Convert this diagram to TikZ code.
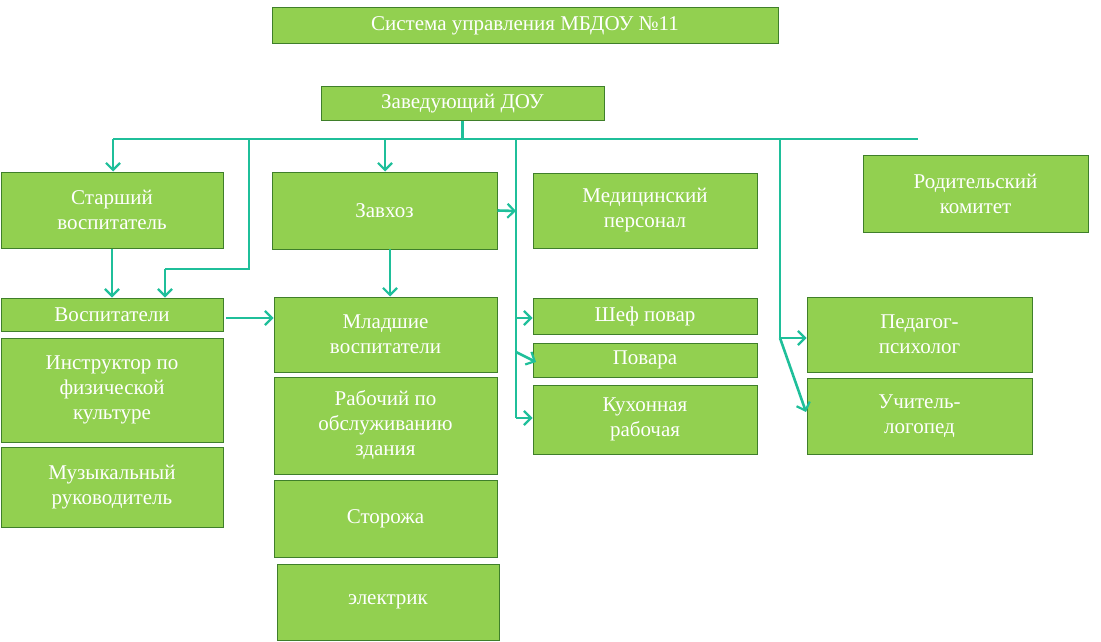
\documentclass[tikz,border=0pt]{standalone}
\usepackage{fontspec}
\setmainfont{Liberation Serif}
\usetikzlibrary{arrows.meta}
\definecolor{boxGreen}{HTML}{92D050}
\definecolor{boxEdge}{HTML}{3F7F2A}
\definecolor{linkTeal}{HTML}{1FBF9A}
\tikzset{
  unit/.style={draw=boxEdge, fill=boxGreen, text=white, line width=1pt, align=center,
    inner sep=0pt, font=\fontsize{21}{25}\selectfont},
  link/.style={draw=linkTeal, line width=2.6pt},
  arr/.style={link, -{Straight Barb[length=7pt,width=14pt,line width=2.2pt]}}
}
\newcommand{\unitbox}[6]{% name, x1, y1, x2, y2, text
  \node[unit, minimum width={#4-#2}, minimum height={#5-#3}] (#1) at ({(#2+#4)/2},{(#3+#5)/2}) {#6};}
\begin{document}
\begin{tikzpicture}[x=1pt,y=-1pt]
    \useasboundingbox (0,0) rectangle (1101,642);
    \unitbox{title}{272}{8}{778}{44}{Система управления МБДОУ №11}
    \unitbox{head}{321}{87}{604}{120}{Заведующий ДОУ}
    \unitbox{senior}{1}{172}{223}{248}{Старший\\воспитатель}
    \unitbox{supply}{272}{172}{497}{249}{Завхоз}
    \unitbox{medic}{533}{173}{757}{248}{Медицинский\\персонал}
    \unitbox{parents}{863}{155}{1088}{232}{Родительский\\комитет}
    \unitbox{tutors}{1}{298}{223}{331}{Воспитатели}
    \unitbox{sport}{1}{338}{223}{442}{Инструктор по\\физической\\культуре}
    \unitbox{music}{1}{447}{223}{527}{Музыкальный\\руководитель}
    \unitbox{junior}{274}{297}{497}{372}{Младшие\\воспитатели}
    \unitbox{worker}{274}{377}{497}{474}{Рабочий по\\обслуживанию\\здания}
    \unitbox{guards}{274}{480}{497}{557}{Сторожа}
    \unitbox{electric}{277}{564}{499}{640}{электрик}
    \unitbox{chef}{533}{298}{757}{334}{Шеф повар}
    \unitbox{cooks}{533}{343}{757}{377}{Повара}
    \unitbox{kitchen}{533}{385}{757}{454}{Кухонная\\рабочая}
    \unitbox{psych}{807}{297}{1032}{372}{Педагог-\\психолог}
    \unitbox{speech}{807}{378}{1032}{454}{Учитель-\\логопед}
    % trunk
    \coordinate (tl) at (113,139);
    \coordinate (tr) at (918,139);
    \coordinate (kit) at (516,139);
    \coordinate (ped) at (780,139);
    \draw[link] (tl) -- (tr);
    \draw[link] (head.south) -- (head.south |- tl);
    \draw[arr] (tl) -- (senior.north -| tl);
    \draw[arr] (385,139) -- (supply.north -| 385,0);
    \draw[link] (249,139) -- (249,269) -- (165,269);
    \draw[arr] (165,269) -- (tutors.north -| 165,0);
    \draw[arr] (senior.south) -- (tutors.north);
    \draw[arr] (390,249) -- (junior.north -| 390,0);
    \draw[arr] (226,318) -- (junior.west |- 0,318);
    % kitchen branch
    \draw[link] (kit) -- (516,418);
    \draw[arr] (supply.east) -- (516,211);
    \draw[arr] (516,318) -- (chef.west |- 0,318);
    \draw[arr] (516,352) -- (536,362);
    \draw[arr] (516,418) -- (kitchen.west |- 0,418);
    % specialists branch
    \draw[link] (ped) -- (780,338);
    \draw[arr] (780,338) -- (psych.west |- 0,338);
    \draw[arr] (780,338) -- (806,412);
\end{tikzpicture}
\end{document}
